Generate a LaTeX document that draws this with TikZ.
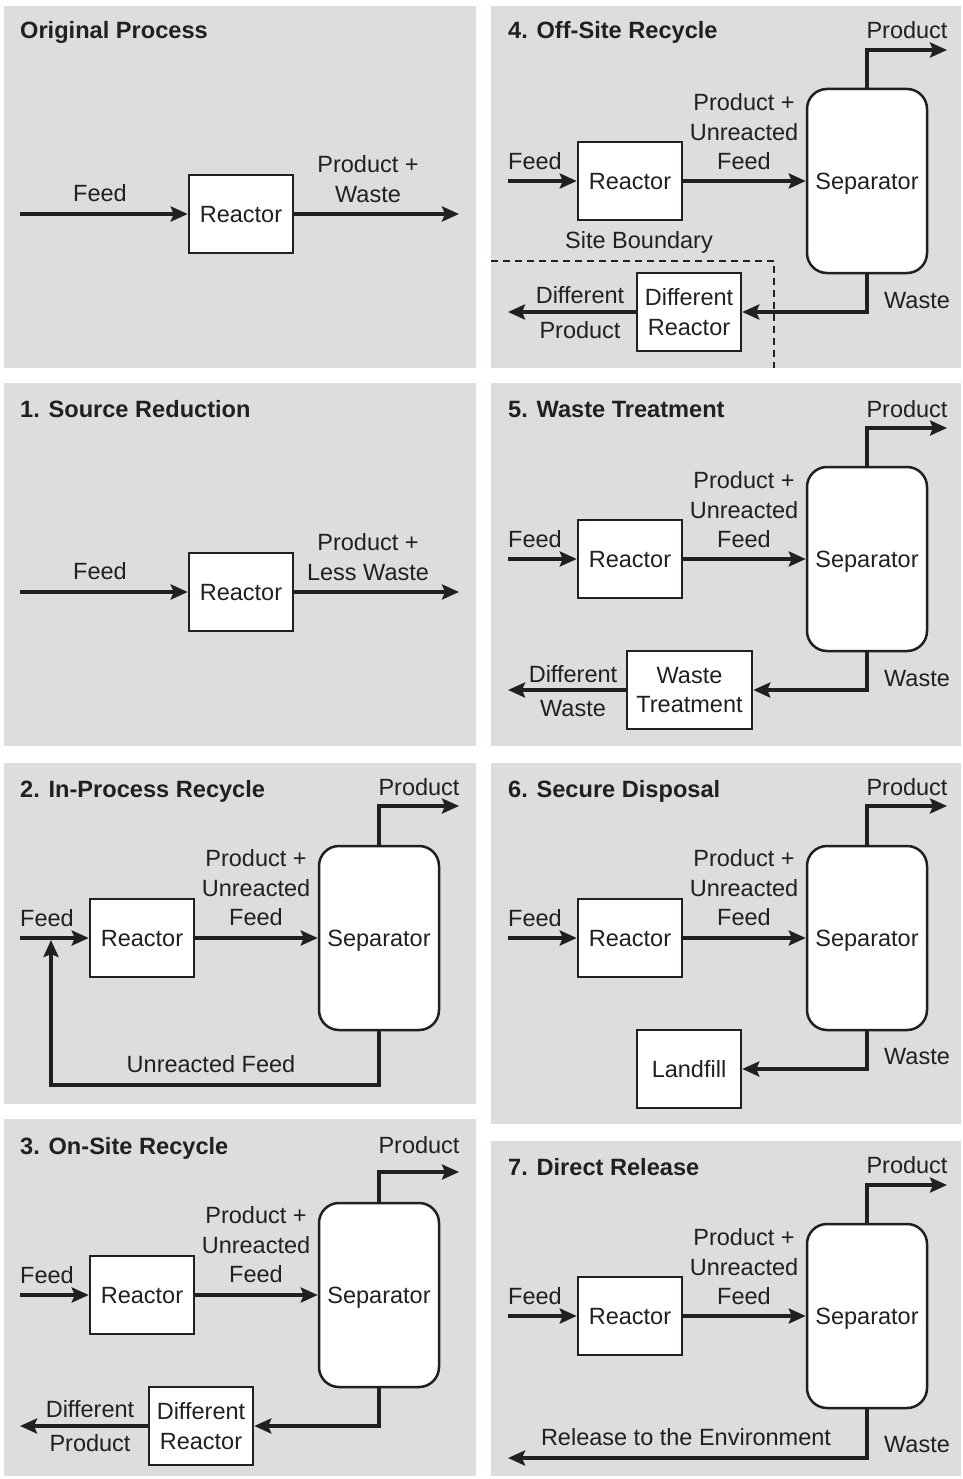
\documentclass[tikz,border=0pt]{standalone}
\usepackage{fontspec}
\setmainfont{Liberation Sans}
\usetikzlibrary{arrows.meta}
\definecolor{panel}{RGB}{220,221,222}
\definecolor{ink}{RGB}{35,31,32}
\newcommand\diaglbl{\fontsize{23.5}{29.5}\selectfont}
\newcommand\diagttl{\fontsize{23.6}{28}\selectfont\bfseries}
\tikzset{
  panelbg/.style={fill=panel,draw=none},
  box/.style={draw=ink,line width=2.5pt,fill=white,minimum width=104pt,minimum height=78pt,inner sep=0pt,font=\diaglbl,text=ink,align=center,text depth=0pt},
  sepbox/.style={draw=ink,line width=2.5pt,fill=white,rounded corners=20pt,minimum width=120pt,minimum height=184pt,inner sep=0pt,font=\diaglbl,text=ink,text depth=0pt},
  flow/.style={draw=ink,line width=3.5pt,line join=miter,-{Stealth[length=17pt,width=15pt,inset=3pt]}},
  lbl/.style={text=ink,font=\diaglbl,align=center,inner sep=0pt},
  ttl/.style={text=ink,font=\diagttl,anchor=base west,inner sep=0pt},
  boundary/.style={draw=ink,line width=1.2pt,dash pattern=on 7pt off 5pt},
}
\begin{document}
\begin{tikzpicture}[x=1pt,y=-1pt]
\fill[white] (0,0) rectangle (962,1479);
\useasboundingbox (0,0) rectangle (962,1479);

% ---------- Original Process ----------
\fill[panelbg] (4,6) rectangle (476,368);
\node[ttl] (t0) at (20,39) {Original Process};
\node[box] (r0) at (241,214) {Reactor};
\coordinate (f0) at (20,214);
\coordinate (o0) at (459,214);
\draw[flow] (f0) -- (r0);
\draw[flow] (r0) -- (o0);
\node[lbl] (fl0) at (100,193) {Feed};
\node[lbl] (pl0) at (368,179) {Product +\\Waste};

% ---------- 1. Source Reduction ----------
\fill[panelbg] (4,383) rectangle (476,746);
\node[ttl] (t1) at (20,417) {1. Source Reduction};
\node[box] (r1) at (241,592) {Reactor};
\coordinate (f1) at (20,592);
\coordinate (o1) at (459,592);
\draw[flow] (f1) -- (r1);
\draw[flow] (r1) -- (o1);
\node[lbl] (fl1) at (100,571) {Feed};
\node[lbl] (pl1) at (368,557) {Product +\\Less Waste};

% ---------- 2. In-Process Recycle ----------
\fill[panelbg] (4,763) rectangle (476,1104);
\node[ttl] (t2) at (20,797) {2. In-Process Recycle};
\node[box] (r2) at (142,938) {Reactor};
\node[sepbox] (s2) at (379,938) {Separator};
\coordinate (f2) at (20,938);
\coordinate (p2) at (459,806);
\coordinate (c2) at (51,1085);
\coordinate (e2) at (51,940);
\draw[flow] (f2) -- (r2);
\draw[flow] (r2) -- (s2);
\draw[flow] (s2.north) |- (p2);
\draw[flow] (s2.south) |- (c2) -- (e2);
\node[lbl] (fl2) at (47,918) {Feed};
\node[lbl] (pl2) at (419,787) {Product};
\node[lbl] (ml2) at (256,888) {Product +\\Unreacted\\Feed};
\node[lbl] (ul2) at (211,1064) {Unreacted Feed};

% ---------- 3. On-Site Recycle ----------
\fill[panelbg] (4,1119) rectangle (476,1476);
\node[ttl] (t3) at (20,1154) {3. On-Site Recycle};
\node[box] (r3) at (142,1295) {Reactor};
\node[sepbox] (s3) at (379,1295) {Separator};
\node[box] (d3) at (201,1426) {Different\\Reactor};
\coordinate (f3) at (20,1295);
\coordinate (p3) at (459,1172);
\coordinate (o3) at (20,1426);
\draw[flow] (f3) -- (r3);
\draw[flow] (r3) -- (s3);
\draw[flow] (s3.north) |- (p3);
\draw[flow] (s3.south) |- (d3);
\draw[flow] (d3) -- (o3);
\node[lbl] (fl3) at (47,1275) {Feed};
\node[lbl] (pl3) at (419,1145) {Product};
\node[lbl] (ml3) at (256,1245) {Product +\\Unreacted\\Feed};
\node[lbl] (da3) at (90,1409) {Different};
\node[lbl] (db3) at (90,1443) {Product};

% ---------- 4. Off-Site Recycle ----------
\fill[panelbg] (491,6) rectangle (961,368);
\node[ttl] (t4) at (508,39) {4. Off-Site Recycle};
\node[box] (r4) at (630,181) {Reactor};
\node[sepbox] (s4) at (867,181) {Separator};
\draw[boundary] (491,261) -| (774,368);
\node[box] (d4) at (689,312) {Different\\Reactor};
\coordinate (f4) at (508,181);
\coordinate (p4) at (947,50);
\coordinate (o4) at (508,312);
\draw[flow] (f4) -- (r4);
\draw[flow] (r4) -- (s4);
\draw[flow] (s4.north) |- (p4);
\draw[flow] (s4.south) |- (d4);
\draw[flow] (d4) -- (o4);
\node[lbl] (fl4) at (535,161) {Feed};
\node[lbl] (pl4) at (907,30) {Product};
\node[lbl] (ml4) at (744,132) {Product +\\Unreacted\\Feed};
\node[lbl] (sb4) at (639,242) {Site Boundary};
\node[lbl] (wl4) at (917,301) {Waste};
\node[lbl] (da4) at (580,295) {Different};
\node[lbl] (db4) at (580,330) {Product};

% ---------- 5. Waste Treatment ----------
\fill[panelbg] (491,383) rectangle (961,746);
\node[ttl] (t5) at (508,417) {5. Waste Treatment};
\node[box] (r5) at (630,559) {Reactor};
\node[sepbox] (s5) at (867,559) {Separator};
\node[box,minimum width=125pt] (w5) at (689.5,690) {Waste\\Treatment};
\coordinate (f5) at (508,559);
\coordinate (p5) at (947,428);
\coordinate (o5) at (508,690);
\draw[flow] (f5) -- (r5);
\draw[flow] (r5) -- (s5);
\draw[flow] (s5.north) |- (p5);
\draw[flow] (s5.south) |- (w5);
\draw[flow] (w5) -- (o5);
\node[lbl] (fl5) at (535,539) {Feed};
\node[lbl] (pl5) at (907,409) {Product};
\node[lbl] (ml5) at (744,510) {Product +\\Unreacted\\Feed};
\node[lbl] (wl5) at (917,679) {Waste};
\node[lbl] (da5) at (573,674) {Different};
\node[lbl] (db5) at (573,709) {Waste};

% ---------- 6. Secure Disposal ----------
\fill[panelbg] (491,763) rectangle (961,1124);
\node[ttl] (t6) at (508,797) {6. Secure Disposal};
\node[box] (r6) at (630,938) {Reactor};
\node[sepbox] (s6) at (867,938) {Separator};
\node[box] (l6) at (689,1069) {Landfill};
\coordinate (f6) at (508,938);
\coordinate (p6) at (947,806);
\draw[flow] (f6) -- (r6);
\draw[flow] (r6) -- (s6);
\draw[flow] (s6.north) |- (p6);
\draw[flow] (s6.south) |- (l6);
\node[lbl] (fl6) at (535,918) {Feed};
\node[lbl] (pl6) at (907,787) {Product};
\node[lbl] (ml6) at (744,888) {Product +\\Unreacted\\Feed};
\node[lbl] (wl6) at (917,1057) {Waste};

% ---------- 7. Direct Release ----------
\fill[panelbg] (491,1141) rectangle (961,1476);
\node[ttl] (t7) at (508,1175) {7. Direct Release};
\node[box] (r7) at (630,1316) {Reactor};
\node[sepbox] (s7) at (867,1316) {Separator};
\coordinate (f7) at (508,1316);
\coordinate (p7) at (947,1185);
\coordinate (o7) at (508,1458);
\draw[flow] (f7) -- (r7);
\draw[flow] (r7) -- (s7);
\draw[flow] (s7.north) |- (p7);
\draw[flow] (s7.south) |- (o7);
\node[lbl] (fl7) at (535,1296) {Feed};
\node[lbl] (pl7) at (907,1165) {Product};
\node[lbl] (ml7) at (744,1267) {Product +\\Unreacted\\Feed};
\node[lbl] (rl7) at (686,1437) {Release to the Environment};
\node[lbl] (wl7) at (917,1445) {Waste};
\end{tikzpicture}
\end{document}
